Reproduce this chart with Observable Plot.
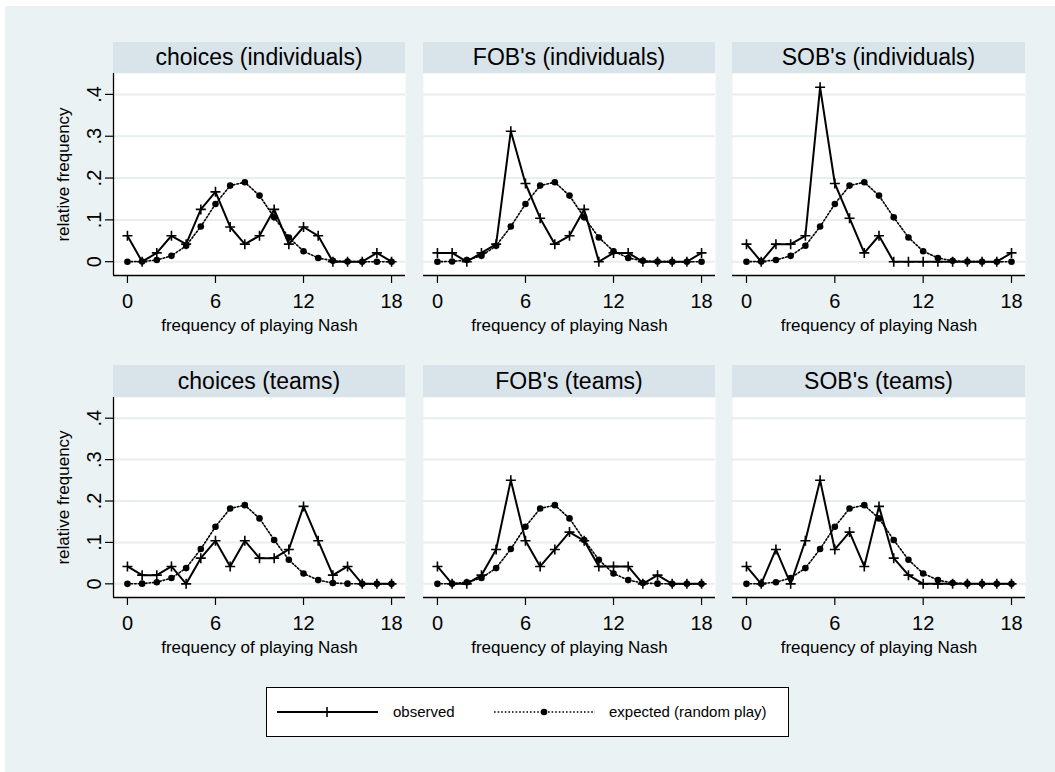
<!DOCTYPE html>
<html>
<head>
<meta charset="utf-8">
<script src="https://cdn.jsdelivr.net/npm/d3@7"></script>
<script src="https://cdn.jsdelivr.net/npm/@observablehq/plot@0.6"></script>
<style>
  html, body { margin: 0; padding: 0; background: #ffffff; }
  #page { position: relative; width: 1055px; height: 772px; background: #ffffff; overflow: hidden;
          font-family: "Liberation Sans", Arial, sans-serif; }
  #bg { position: absolute; left: 5px; top: 6px; width: 1050px; height: 766px; background: #eaf2f3; }
  .strip { position: absolute; background: #d8e4ea; color: #000; font-size: 23px; text-align: center;
           display: flex; align-items: center; justify-content: center; white-space: nowrap; }
  .panel { position: absolute; }
  #legend { position: absolute; left: 266px; top: 687px; width: 523px; height: 50px; background: #fff;
            border: 1px solid #000; box-sizing: border-box; }
  #legend span { position: absolute; font-size: 15px; color: #000; top: 15px; white-space: nowrap; }
</style>
</head>
<body>
<div id="page"><div id="bg"></div></div>
<script>
// ---------- data ----------
const nashCounts = [0,1,2,3,4,5,6,7,8,9,10,11,12,13,14,15,16,17,18];
const xTicks = [0, 6, 12, 18];
const yTicks = [0, 0.1, 0.2, 0.3, 0.4];
const yTickLabels = ["0", ".1", ".2", ".3", ".4"];

const panelTitles = ["choices (individuals)", "FOB's (individuals)", "SOB's (individuals)",
                     "choices (teams)", "FOB's (teams)", "SOB's (teams)"];

const expectedRandom = [0, 0.0005, 0.004, 0.014, 0.038, 0.084, 0.138, 0.182, 0.190, 0.158, 0.106, 0.058, 0.025, 0.009, 0.002, 0.0005, 0, 0, 0];

const obsChoicesInd  = [0.062, 0, 0.021, 0.062, 0.042, 0.125, 0.167, 0.083, 0.042, 0.062, 0.125, 0.042, 0.083, 0.062, 0, 0, 0, 0.021, 0];
const obsFOBInd      = [0.021, 0.021, 0, 0.021, 0.042, 0.312, 0.187, 0.104, 0.042, 0.062, 0.125, 0, 0.021, 0.021, 0, 0, 0, 0, 0.021];
const obsSOBInd      = [0.042, 0, 0.042, 0.042, 0.062, 0.417, 0.187, 0.104, 0.021, 0.062, 0, 0, 0, 0, 0, 0, 0, 0, 0.021];
const obsChoicesTeam = [0.042, 0.021, 0.021, 0.042, 0, 0.062, 0.104, 0.042, 0.104, 0.062, 0.062, 0.083, 0.187, 0.104, 0.021, 0.042, 0, 0, 0];
const obsFOBTeam     = [0.042, 0, 0, 0.021, 0.083, 0.25, 0.104, 0.042, 0.083, 0.125, 0.104, 0.042, 0.042, 0.042, 0, 0.021, 0, 0, 0];
const obsSOBTeam     = [0.042, 0, 0.083, 0, 0.104, 0.25, 0.083, 0.125, 0.042, 0.187, 0.062, 0.021, 0, 0, 0, 0, 0, 0, 0];

const observedSeries = [obsChoicesInd, obsFOBInd, obsSOBInd, obsChoicesTeam, obsFOBTeam, obsSOBTeam];

const xLabel = "frequency of playing Nash";
const yLabel = "relative frequency";
const legendLabels = ["observed", "expected (random play)"];

// ---------- layout ----------
const plotLeft = [113, 423, 732];
const plotW = [292, 292, 293];
const plotTop = [73, 397];
const plotH = [202, 200];
const stripTop = [42, 365];
const stripH = [31, 32];
const xDomain = [-0.95, 18.95];
const yDomain = [-0.033, 0.45];
const FONT = '"Liberation Sans", Arial, sans-serif';

const plusSymbol = {
  draw(ctx, size) {
    const r = Math.sqrt(size / Math.PI);
    ctx.moveTo(-r, 0); ctx.lineTo(r, 0);
    ctx.moveTo(0, -r); ctx.lineTo(0, r);
  }
};

const page = document.getElementById("page");

panelTitles.forEach((title, i) => {
  const col = i % 3, row = Math.floor(i / 3);
  const first = col === 0;
  const mL = first ? 108 : 10, mR = 22, mB = 62;

  const strip = document.createElement("div");
  strip.className = "strip";
  strip.style.left = plotLeft[col] + "px";
  strip.style.top = stripTop[row] + "px";
  strip.style.width = plotW[col] + "px";
  strip.style.height = stripH[row] + "px";
  strip.textContent = title;
  page.appendChild(strip);

  const obs = nashCounts.map((n, k) => ({n, v: observedSeries[i][k]}));
  const exp = nashCounts.map((n, k) => ({n, v: expectedRandom[k]}));

  const marks = [
    Plot.frame({fill: "#ffffff", stroke: null}),
    Plot.gridY({ticks: yTicks, stroke: "#e6eef1", strokeOpacity: 1, strokeWidth: 2}),
    Plot.ruleY([yDomain[0]], {stroke: "#000", strokeWidth: 1.3}),
    Plot.axisX({ticks: xTicks, tickSize: 8, tickPadding: 10, fontSize: 20, label: null,
                stroke: "#000", strokeWidth: 1.2}),
    Plot.text([xLabel], {frameAnchor: "bottom", dy: 43, lineAnchor: "top", fontSize: 17,
                         text: d => d, fill: "#000"}),
    Plot.line(obs, {x: "n", y: "v", stroke: "#000", strokeWidth: 2}),
    Plot.dot(obs, {x: "n", y: "v", symbol: plusSymbol, r: 5, stroke: "#000", strokeWidth: 1.6, fill: "none"}),
    Plot.line(exp, {x: "n", y: "v", stroke: "#000", strokeWidth: 1.6, strokeDasharray: "1.6,2"}),
    Plot.dot(exp, {x: "n", y: "v", r: 3.3, fill: "#000", stroke: null})
  ];
  if (first) {
    marks.push(
      Plot.ruleX([xDomain[0]], {stroke: "#000", strokeWidth: 1.3}),
      Plot.axisY({ticks: yTicks, tickSize: 8, tickFormat: () => "", label: null, stroke: "#000", strokeWidth: 1.2}),
      Plot.text(yTicks, {y: d => d, frameAnchor: "left", text: (d, k) => yTickLabels[k], rotate: -90,
                         dx: -13, lineAnchor: "bottom", textAnchor: "middle", fontSize: 20, fill: "#000"}),
      Plot.text([yLabel], {frameAnchor: "left", text: d => d, rotate: -90, dx: -50,
                           lineAnchor: "middle", textAnchor: "middle", fontSize: 17, fill: "#000"})
    );
  } else {
    marks.push(Plot.axisY({ticks: [], label: null}));
  }

  const chart = Plot.plot({
    width: mL + plotW[col] + mR,
    height: plotH[row] + mB,
    marginLeft: mL, marginRight: mR, marginTop: 0, marginBottom: mB,
    x: {domain: xDomain, axis: null},
    y: {domain: yDomain, axis: null},
    style: {background: "transparent", fontFamily: FONT, fontSize: "20px", color: "#000", overflow: "visible"},
    marks
  });
  const wrap = document.createElement("div");
  wrap.className = "panel";
  wrap.style.left = (plotLeft[col] - mL) + "px";
  wrap.style.top = plotTop[row] + "px";
  wrap.appendChild(chart);
  page.appendChild(wrap);
});

// ---------- legend ----------
const legend = document.createElement("div");
legend.id = "legend";
legend.innerHTML = `
<svg width="523" height="50" style="position:absolute;left:-1px;top:-1px;overflow:visible">
  <line x1="11" x2="112" y1="25" y2="25" stroke="#000" stroke-width="2"/>
  <line x1="56" x2="66" y1="25" y2="25" stroke="#000" stroke-width="1.6"/>
  <line x1="61" x2="61" y1="20" y2="30" stroke="#000" stroke-width="1.6"/>
  <line x1="228" x2="329" y1="25" y2="25" stroke="#000" stroke-width="1.6" stroke-dasharray="1.6,2"/>
  <circle cx="278" cy="25" r="3.3" fill="#000"/>
</svg>
<span style="left:126px">${legendLabels[0]}</span>
<span style="left:342px">${legendLabels[1]}</span>`;
page.appendChild(legend);
</script>
</body>
</html>
